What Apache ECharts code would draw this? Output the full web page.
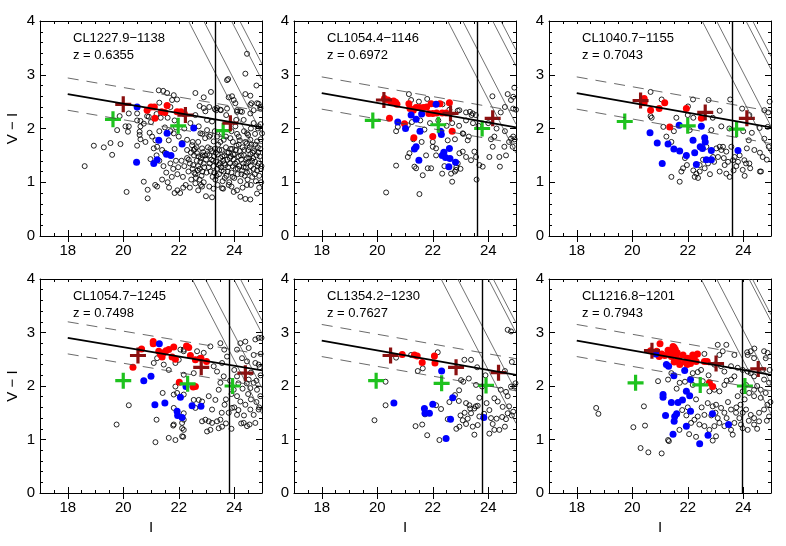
<!DOCTYPE html>
<html>
<head>
<meta charset="utf-8">
<title>Diagramas cor-magnitude</title>
<script src="https://cdn.jsdelivr.net/npm/echarts@6/dist/echarts.min.js"></script>
<style>
  html, body { margin: 0; padding: 0; background: #fff; }
  #grafico { width: 786px; height: 546px; }
</style>
</head>
<body>
<div id="grafico"></div>
<script>
// Painéis na ordem: esquerda para direita, de cima para baixo
const clusterNames = ['CL1227.9\u22121138', 'CL1054.4\u22121146', 'CL1040.7\u22121155',
                      'CL1054.7\u22121245', 'CL1354.2\u22121230', 'CL1216.8\u22121201'];
const redshifts = ['0.6355', '0.6972', '0.7043', '0.7498', '0.7627', '0.7943'];

// Sequência vermelha: valor de V-I em I=18 e em I=25, faixa de ±0.3
const redSeqAt18 = [2.64, 2.66, 2.66, 2.90, 2.85, 2.85];
const redSeqAt25 = [2.02, 2.02, 2.02, 2.29, 2.21, 2.21];
const redSeqHalfWidth = 0.3;
const redSeqStart = 18;
const redSeqEnd = 25;

// Limite em magnitude I (linha vertical)
const magLimits = [23.32, 23.62, 23.61, 23.81, 23.80, 23.97];
// Linhas de V constante: valor de V de cada linha
const vLimits = [
  [26.35, 26.90, 27.90, 28.20],
  [26.54, 27.08, 28.16, 28.46],
  [26.52, 27.04, 28.10, 28.34],
  [26.48, 26.96, 27.98, 28.22],
  [26.30, 26.90, 28.00, 28.18],
  [26.48, 27.04, 28.21, 28.33]
];

const xTickLabels = [18, 20, 22, 24];
const xMin = 17, xMax = 25;
const yMin = 0, yMax = 4;

// Cruzes (vermelho escuro e verde)
const darkCrosses = [
  [[20.00, 2.45], [22.24, 2.25], [23.86, 2.10]],
  [[20.24, 2.53], [22.64, 2.28], [24.16, 2.19]],
  [[20.30, 2.52], [22.63, 2.30], [24.13, 2.19]],
  [[20.53, 2.57], [22.81, 2.35], [24.40, 2.24]],
  [[20.48, 2.57], [22.84, 2.35], [24.37, 2.25]],
  [[20.71, 2.66], [23.02, 2.42], [24.54, 2.32]]
];
const greenCrosses = [
  [[19.63, 2.17], [21.98, 2.05], [23.60, 1.96]],
  [[19.84, 2.15], [22.20, 2.07], [23.78, 2.00]],
  [[19.73, 2.13], [22.00, 2.05], [23.76, 1.99]],
  [[20.00, 2.10], [22.32, 2.04], [23.94, 2.00]],
  [[19.96, 2.10], [22.32, 2.05], [23.92, 2.01]],
  [[20.12, 2.06], [22.45, 2.02], [24.06, 2.00]]
];

// ---- Painel 1 ----
const red1 = [[20.86,2.34],[21.0,2.40],[21.12,2.40],[21.14,2.19],[21.38,2.31],[21.50,2.30],[21.58,2.43],[21.94,2.31],[22.08,2.31],[22.2,2.28]];
const blue1 = [[20.5,2.40],[21.28,1.78],[21.58,1.91],[22.54,2.01],[21.56,1.52],[21.72,1.50],[22.12,1.71],[21.22,1.42],[21.1,1.35],[20.48,1.37]];
const field1 = [
  [18.61,1.30],[18.94,1.68],[19.3,1.65],[19.54,1.73],[19.6,1.51],[19.78,1.97],[19.87,2.23],[19.9,1.71],
  [20.2,2.28],[20.5,2.28],[20.86,2.23],[20.62,2.14],[20.5,2.15],[20.74,2.09],[20.08,2.04],[20.2,2.04],[20.17,1.94],[20.62,2.04],
  [20.59,1.94],[20.59,1.88],[20.62,1.80],[20.5,1.68],[20.98,1.43],[21.1,1.63],[20.74,1.01],[20.88,0.86],[20.12,0.82],[20.88,0.70],
  [20.92,2.22],[21.0,2.12],[20.95,1.92],[20.8,1.75],
  [21.28,2.71],[21.44,2.70],[21.58,2.66],[21.82,2.62],[21.76,2.53],[21.94,2.54],[21.3,2.48],[21.2,2.27],[21.35,2.2],[21.6,2.2],[21.85,2.15],[21.7,2.4],
  [21.04,1.85],[21.16,1.78],[21.22,1.66],[21.4,1.6],[21.64,1.78],[21.82,1.91],[22.0,1.85],[21.3,1.95],[21.5,2.02],[21.7,1.95],[21.9,2.02],
  [21.3,1.4],[21.45,1.3],[21.5,1.55],[21.85,1.62],[21.2,1.5],
  [21.15,0.95],[21.4,1.05],[21.6,1.0],[21.65,0.9],[21.75,1.1],[21.85,0.8],[21.95,0.85],[21.55,1.18],[21.8,1.25],[21.95,1.15],[21.7,1.35],
  [21.9,1.4],[21.98,1.28],[21.22,0.92],[22.16,0.9],
  [22.6,2.66],[22.9,2.58],[22.75,2.42],[22.96,2.32],[22.42,2.10],[22.72,2.04],[23.02,2.16],[22.78,1.91],[23.02,1.97],[22.3,1.79],
  [22.48,1.69],[22.12,1.73],[22.54,1.6],[22.66,1.54],[22.84,1.63],
  [22.1,1.4],[22.2,1.3],[22.3,1.45],[22.35,1.2],[22.4,1.35],[22.5,1.25],[22.55,1.5],[22.6,1.15],[22.65,1.4],[22.7,1.3],[22.75,1.05],
  [22.8,1.45],[22.85,1.2],[22.9,1.35],[22.95,1.5],[22.15,1.1],[22.25,0.95],[22.45,1.05],[22.6,0.98],[22.9,1.0],[22.3,1.6],[22.5,1.75],
  [22.7,1.75],[22.95,1.82],[22.2,2.0],[22.6,2.25],[22.85,1.9],[22.4,0.9],[22.7,0.85],[22.05,0.8],[22.98,0.74],[22.84,0.92],
  [22.52,1.32],[22.58,1.62],[22.62,1.08],[22.68,1.22],[22.72,1.48],[22.78,1.38],[22.82,1.12],[22.88,1.56],[22.92,1.28],[22.98,1.42],[23.0,1.18],
  [23.16,2.68],[23.35,2.34],[23.52,2.34],[23.74,2.9],[24.4,3.02],[24.46,3.39],[24.8,2.8],[24.4,2.64],[23.98,2.53],[24.1,2.34],[24.7,2.34],
  [24.88,2.46],[24.94,2.4],[23.78,2.92],[24.58,2.61],[24.62,2.47],[24.94,2.37],[23.8,2.58],[24.04,2.47],[22.9,2.38],[23.1,2.4],[23.3,2.36],
  [23.74,2.37],[24.1,2.31],[24.28,2.31],
  [23.92,2.6],[24.58,2.44],[24.82,2.47],[24.22,2.32],[24.58,2.28],[24.07,2.16],[24.34,2.16],[24.04,2.04],[24.7,2.1],[24.88,2.04],[25.0,1.91],
  [23.86,1.82],[24.16,1.85],[24.46,1.91],[24.58,1.79],[24.82,1.76],[23.38,1.85],[23.62,1.79],[23.2,2.13],[23.14,1.88],[23.26,1.76],
  [23.71,2.25],[23.5,2.35],[23.38,2.38],
  [23.05,1.65],[23.1,1.5],[23.12,1.35],[23.15,1.2],[23.18,1.42],[23.2,1.58],[23.22,1.1],[23.25,1.3],[23.28,1.48],[23.3,1.62],[23.32,1.05],
  [23.35,1.38],[23.38,1.25],[23.4,1.52],[23.42,1.7],[23.45,1.15],[23.48,1.35],[23.5,1.45],[23.52,1.28],[23.55,1.6],[23.58,1.02],[23.6,1.4],
  [23.62,1.2],[23.65,1.5],[23.68,1.32],[23.7,1.65],[23.72,1.12],[23.75,1.42],[23.78,1.28],[23.8,1.55],[23.82,1.0],[23.85,1.35],[23.88,1.48],
  [23.9,1.18],[23.92,1.62],[23.95,1.3],[23.98,1.42],[24.0,1.08],[24.02,1.52],[24.05,1.25],[24.08,1.68],[24.1,1.38],[24.12,1.15],[24.15,1.48],
  [24.18,1.3],[24.2,1.58],[24.22,1.02],[24.25,1.42],[24.28,1.22],[24.3,1.65],[24.32,1.35],[24.35,1.5],[24.38,1.12],[24.4,1.75],[24.42,1.28],
  [24.45,1.45],[24.48,1.05],[24.5,1.6],[24.52,1.38],[24.55,1.2],[24.58,1.52],[24.6,1.3],[24.62,1.7],[24.65,1.1],[24.68,1.45],[24.7,1.25],
  [24.72,1.58],[24.75,1.38],[24.78,1.02],[24.8,1.5],[24.82,1.22],[24.85,1.65],[24.88,1.35],[24.9,1.12],[24.92,1.48],[24.95,1.8],[24.97,1.0],
  [24.98,1.3],
  [23.1,1.85],[23.3,1.95],[23.5,1.75],[23.55,1.92],[23.7,1.85],[23.9,1.95],[24.1,1.9],[24.2,1.78],[24.35,1.95],[24.5,1.88],[24.6,2.0],
  [24.75,1.9],[24.85,2.0],[24.95,2.08],[23.95,1.75],[24.45,1.72],
  [23.1,0.92],[23.25,0.88],[23.4,0.95],[23.6,0.88],[23.9,0.92],[24.1,0.85],[24.3,0.9],[24.6,0.95],[24.9,0.9],[22.8,0.95],[23.2,0.72],
  [23.56,0.89],[23.98,0.82],[24.22,0.73],[24.4,0.69],[24.58,0.68],[24.82,0.79],[23.8,0.95],[24.46,0.95],
  [23.02,1.52],[23.08,1.28],[23.14,1.62],[23.24,1.4],[23.28,1.18],[23.34,1.55],[23.36,1.12],[23.44,1.32],[23.46,1.6],[23.54,1.22],
  [23.57,1.48],[23.64,1.35],[23.66,1.08],[23.74,1.55],[23.76,1.2],[23.84,1.45],[23.86,1.62],[23.94,1.1],[23.96,1.52],[24.03,1.35],
  [24.06,1.6],[24.13,1.25],[24.16,1.7],[24.24,1.5],[24.26,1.15],[24.34,1.28],[24.36,1.6],[24.44,1.35],[24.46,1.18],[24.54,1.45],
  [24.56,1.65],[24.64,1.4],[24.66,1.55],[24.74,1.15],[24.76,1.7],[24.84,1.3],[24.86,1.55],[24.94,1.62],[24.96,1.25],[22.44,1.55],
  [22.36,1.42],[22.56,1.18],[22.64,1.65],[22.76,1.25],[22.86,1.5]
];

// ---- Painel 2 ----
const red2 = [[20.26,2.56],[20.38,2.53],[20.5,2.50],[20.59,2.51],[20.66,2.49],[20.71,2.45],[20.44,2.19],[20.98,2.09],[21.14,2.46],
  [21.18,2.37],[21.3,2.34],[21.4,2.39],[21.52,2.39],[21.66,2.39],[21.78,2.40],[21.94,2.46],[21.86,2.28],[22.0,2.28],[22.14,2.29],
  [22.26,2.46],[22.34,2.29],[22.48,2.29],[22.6,2.48],[22.0,1.85],[21.32,1.83],[22.7,1.95]];
const blue2 = [[22.12,2.45],[21.22,2.25],[21.6,2.27],[20.74,2.12],[21.02,2.0],[21.4,2.17],[21.54,1.95],[22.28,1.95],[22.31,1.89],
  [21.4,1.66],[21.34,1.62],[21.5,1.41],[22.34,1.50],[22.4,1.56],[22.46,1.46],[22.6,1.63],[22.62,1.44],[22.58,1.29],[22.82,1.37]];
const field2 = [
  [21.14,2.64],[21.22,2.53],[21.5,2.5],[21.8,2.55],[22.1,2.45],[22.35,2.45],[22.6,2.35],[22.9,2.33],[23.2,2.3],[23.4,2.25],[23.55,2.25],
  [24.15,2.6],[24.7,2.64],[24.82,2.53],[24.9,2.59],[24.94,2.76],[25.0,2.35],[24.6,2.4],[24.45,2.3],[24.9,2.37],[23.44,2.28],[23.34,2.31],[22.96,2.34],
  [20.74,2.03],[20.68,1.95],[21.1,2.06],[21.25,2.12],[21.55,2.15],[21.7,1.98],[21.9,2.1],[22.2,2.15],[22.5,2.05],[22.7,2.1],[22.95,2.05],
  [23.2,2.15],[23.45,2.1],[23.65,2.05],[24.0,2.1],[24.3,2.0],[24.6,1.95],[24.9,1.85],[23.1,1.9],[22.8,1.8],[22.0,1.75],[21.3,1.8],[21.6,1.75],
  [23.3,1.85],[24.1,1.8],[24.75,1.75],[24.95,1.8],
  [21.16,1.54],[21.1,1.47],[21.34,1.29],[21.4,1.26],[20.68,1.31],[21.64,1.13],[21.82,1.26],[21.94,1.26],[21.76,1.5],[22.0,1.66],[22.12,1.63],
  [22.42,1.3],[22.34,1.16],[22.66,1.16],[22.7,1.01],[22.84,1.23],[22.9,1.35],[22.96,1.54],[23.08,1.57],[23.2,1.47],[23.38,1.41],[23.5,1.57],
  [23.56,1.47],[23.68,1.32],[23.8,1.29],[24.04,1.47],[24.16,1.66],[24.22,1.85],[24.4,1.47],[24.42,1.29],[24.58,1.66],[24.64,1.5],[24.88,1.66],
  [24.82,1.81],[23.58,1.05],[20.32,0.81],[21.52,0.78],[22.12,1.5],[22.54,1.78],[23.08,1.91],[23.26,1.78],[22.8,1.2],[22.85,1.28],[23.0,1.25]
];

// ---- Painel 3 ----
const red3 = [[20.43,2.56],[20.43,2.48],[20.66,2.34],[20.97,2.37],[21.17,2.48],[21.35,2.03],[21.95,2.37],[22.49,2.19]];
const blue3 = [[20.64,1.92],[20.9,1.73],[21.29,1.71],[21.5,1.62],[21.71,1.58],[21.69,2.06],[21.95,1.50],[22.19,1.78],[22.25,1.55],
  [22.45,1.66],[22.53,1.63],[22.49,2.04],[22.61,1.83],[22.63,1.75],[22.67,1.42],[22.85,1.42],[22.85,1.59],[21.08,1.35],[22.31,1.33],[23.81,1.59]];
const field3 = [
  [20.66,2.68],[20.66,2.23],[21.06,2.54],[21.12,2.03],[21.59,2.2],[22.01,2.41],[22.19,2.54],[22.75,2.53],[23.15,2.33],[23.21,2.04],[23.53,2.54],
  [23.96,2.37],[24.22,2.25],[24.76,2.34],[24.88,2.03],[24.59,2.01],[24.76,1.81],[24.92,1.66],[24.7,1.47],[24.64,1.2],[24.22,1.35],[24.1,1.35],
  [23.98,1.23],[23.87,1.5],[23.69,1.47],[23.63,1.41],[23.45,1.38],[23.33,1.32],[23.39,1.16],[23.51,1.1],[23.15,1.2],[23.09,1.47],[23.03,1.63],
  [22.91,1.47],[22.73,1.35],[22.61,1.26],[22.43,1.2],[22.31,1.16],[22.37,1.08],[22.25,1.1],[22.43,1.32],[21.83,1.26],[21.77,1.2],[21.41,1.1],
  [21.71,1.01],[21.23,1.85],[21.41,1.75],[22.07,1.97],[22.67,1.66],[23.15,1.66],[23.21,1.6],[23.27,1.66],[23.39,1.57],[23.57,1.66],[23.81,1.38],
  [24.04,1.41],[24.25,1.26],[24.6,1.2],[24.13,1.63],[24.2,1.78],[24.31,1.92],[22.85,1.97],[20.7,2.2],
  [24.9,2.3],[24.95,2.5],[24.85,1.42],[24.6,1.55],[23.75,1.3],[23.3,1.45],[22.95,1.38],[22.55,1.42],[22.8,1.15],[22.2,1.22],[21.9,1.45],
  [21.5,1.95],[22.2,2.2],[22.9,2.2],[23.5,2.0],[24.0,1.95],[24.4,1.6],[21.97,1.32],[23.65,1.22],[24.05,1.12],[22.0,2.25]
];

// ---- Painel 4 ----
const red4 = [[20.35,2.35],[20.66,2.69],[21.08,2.83],[21.08,2.79],[21.28,2.65],[21.34,2.59],[21.4,2.54],[21.46,2.62],[21.54,2.66],
  [21.64,2.68],[21.82,2.73],[21.76,2.54],[21.88,2.5],[22.28,2.75],[22.36,2.72],[22.42,2.57],[22.6,2.49],[22.8,2.52],[23.0,2.46],
  [22.02,2.07],[22.52,1.98],[22.6,1.99]];
const blue4 = [[21.3,2.79],[20.74,2.1],[21.0,2.18],[21.14,1.65],[21.5,1.68],[22.06,1.79],[21.94,1.53],[21.96,1.45],[22.12,1.41],
  [22.26,1.99],[22.48,1.63],[22.8,1.62]];
const field4 = [
  [22.06,2.68],[22.18,2.65],[22.0,2.49],[21.88,2.43],[21.1,2.43],[21.64,2.3],[22.66,2.65],[22.75,2.52],[22.9,2.62],[23.14,2.74],[23.5,2.8],
  [23.64,2.68],[23.74,2.55],[23.56,2.43],[23.38,2.27],[23.26,2.37],[22.54,2.24],[22.18,2.21],[21.88,1.99],[21.82,1.84],[21.94,1.87],[22.18,1.84],
  [22.54,1.74],[22.72,1.74],[22.84,1.71],[23.08,1.81],[23.32,1.74],[23.44,1.93],[23.5,2.06],[23.62,2.18],[24.1,2.68],[24.22,2.8],[24.4,2.83],
  [24.52,2.71],[24.76,2.87],[24.88,2.9],[24.7,2.58],[24.28,2.52],[24.46,2.46],[24.76,2.43],[24.88,2.4],[24.52,2.12],[24.7,2.06],[24.58,1.96],
  [24.82,1.93],[24.94,1.81],[24.1,2.18],[23.98,1.93],[24.1,1.81],[24.22,1.71],[24.4,1.65],[24.58,1.56],[24.7,1.46],[24.88,1.56],[24.76,1.31],
  [24.46,1.25],[24.34,1.31],[24.1,1.46],[23.92,1.59],[23.5,1.37],[23.38,1.34],[23.2,1.31],[23.08,1.34],[22.96,1.37],[22.84,1.34],[23.14,1.18],
  [23.02,1.15],[23.44,1.21],[23.56,1.24],[22.6,1.59],[22.18,1.49],[22.18,1.37],[22.12,1.31],[22.18,1.18],[22.12,1.06],[21.82,1.28],[21.88,0.99],
  [21.64,1.03],[21.2,1.37],[21.16,0.95],[23.2,1.56],
  [20.2,1.64],[19.76,1.28],[21.42,1.87],[21.46,2.4],[21.22,2.52],[22.18,2.68],[21.82,1.59],[21.8,1.26],[22.12,1.21],[22.16,1.05],
  [23.7,1.75],[23.8,1.5],[23.9,1.85],[24.0,1.6],[24.0,2.3],[24.15,2.05],[24.3,1.95],[24.5,1.85],[24.6,2.25],[24.8,2.1],[24.95,2.2],
  [24.9,1.6],[24.6,1.75],[24.35,1.45],[24.25,1.3],[24.55,1.28],[24.8,1.7],[23.85,2.1],[23.65,1.65],[23.55,1.5],[23.7,1.3],[23.9,1.2],
  [24.15,1.55],[24.45,2.05],[24.95,2.6],[24.98,2.9],[24.92,2.35]
];

// ---- Painel 5 ----
const red5 = [[20.9,2.59],[21.34,2.58],[21.44,2.56],[21.62,2.44],[22.06,2.56],[22.08,2.43]];
const blue5 = [[20.6,1.68],[21.7,1.58],[21.72,1.49],[21.88,1.49],[22.0,1.66],[22.32,2.28],[22.72,1.78],[22.64,1.38],[22.48,1.02],[23.84,1.41]];
const field5 = [
  [20.68,2.53],[19.9,1.36],[20.3,2.08],[20.3,1.64],[21.46,2.28],[21.22,2.58],[22.18,2.63],[21.38,1.25],[21.62,1.28],[21.8,1.08],[22.24,0.99],
  [22.12,1.64],[22.8,1.83],[23.02,2.11],[23.1,2.08],[23.3,2.14],[23.14,2.49],[23.38,2.49],[22.94,1.72],[23.2,1.68],[23.32,1.64],[23.5,1.58],
  [23.38,1.49],[23.26,1.39],[23.08,1.36],[22.96,1.24],[23.2,1.29],[23.44,1.24],[23.5,1.09],[23.62,1.27],[23.68,1.43],[23.94,1.68],[24.04,1.55],
  [24.22,1.77],[24.3,1.39],[24.16,1.29],[24.22,1.18],[24.4,1.18],[24.52,1.61],[24.64,1.38],[24.7,1.49],[24.64,1.89],[24.7,1.81],[24.82,1.99],
  [24.94,1.99],[24.7,3.05],[24.82,3.02],[23.78,1.99],[23.56,2.02],[23.68,1.78],[21.64,2.33],[22.54,1.38],[24.04,1.11],[24.34,1.71],
  [21.72,1.47],[22.3,1.57],[22.6,1.7],[22.95,1.92],[23.35,1.58],[23.55,1.62],[23.62,1.63],[23.15,1.5],[22.85,1.2],[23.0,1.45],[23.85,1.48],
  [24.1,1.4],[24.5,1.42],[24.85,1.45],[24.6,1.24],[24.9,1.52],[24.45,1.93],[24.75,1.62],[24.98,2.05],[23.9,2.2],[23.6,2.35],[24.6,2.28],[24.85,2.45]
];

// ---- Painel 6 ----
const red6 = [[20.66,2.66],[20.88,2.65],[21.0,2.79],[20.97,2.55],[21.06,2.6],[21.17,2.57],[21.29,2.67],[21.35,2.62],[21.41,2.55],
  [21.47,2.74],[21.55,2.68],[21.59,2.58],[21.51,2.72],[21.62,2.62],[21.67,2.49],[21.51,2.45],[21.71,2.4],[21.83,2.58],[21.98,2.4],
  [22.0,2.52],[22.18,2.58],[22.24,2.55],[22.3,2.46],[22.35,2.6],[22.2,2.5],[22.6,2.46],[22.7,2.46],[22.78,2.06],[22.9,1.99],
  [21.45,2.6],[21.9,2.45],[22.1,2.42]];
const blue6 = [[20.85,2.6],[21.5,2.19],[21.89,2.29],[22.1,2.12],[21.95,1.9],[22.07,1.82],[21.11,1.84],[21.11,1.79],[21.41,1.69],
  [21.65,1.69],[21.81,1.74],[21.2,1.45],[21.53,1.43],[21.6,1.48],[21.51,1.34],[21.95,1.25],[21.47,1.1],[22.1,1.53],[22.89,1.48],
  [23.47,1.28],[22.73,1.08],[22.43,0.92],[21.23,2.4],[21.31,2.37]];
const field6 = [
  [18.7,1.59],[18.78,1.48],[20.04,1.23],[20.42,1.62],[20.46,1.26],[20.3,0.84],[20.58,0.76],[21.06,0.74],[21.32,0.97],
  [22.6,2.6],[23.08,2.77],[23.14,2.58],[23.26,2.65],[23.68,2.58],[24.16,2.58],[24.27,2.65],[24.39,2.52],[24.75,2.65],[24.81,2.52],[23.56,2.37],
  [23.8,2.34],[23.98,2.3],[24.16,2.27],[24.27,2.24],[24.39,2.18],[24.75,2.12],[24.93,2.06],[22.96,2.4],[23.2,2.37],[23.32,2.27],[23.68,2.18],
  [23.56,2.12],[23.32,2.02],[23.14,1.9],[22.96,1.93],[22.78,1.9],[22.36,2.26],[22.48,2.3],[22.54,2.09],[22.18,2.02],[22.18,2.24],[21.41,2.24],
  [21.29,2.12],[21.71,2.06],[20.93,2.09],[22.72,1.68],[22.9,1.62],[23.02,1.65],[23.2,1.59],[23.32,1.5],[23.56,1.56],[23.74,1.5],[23.86,1.4],
  [23.98,1.5],[24.1,1.56],[24.27,1.46],[24.39,1.4],[24.57,1.5],[24.75,1.56],[24.87,1.65],[24.93,1.43],[24.63,1.78],[24.39,1.81],[24.21,1.87],
  [24.39,1.93],[24.63,1.93],[24.81,1.87],[23.8,1.81],[23.98,1.9],[24.1,2.02],[22.36,1.43],[22.6,1.46],[23.08,1.4],[22.24,1.37],[22.12,1.31],
  [22.42,1.28],[22.6,1.25],[22.78,1.18],[22.96,1.25],[23.14,1.31],[23.32,1.25],[23.68,1.31],[23.92,1.28],[23.98,1.21],[24.39,1.28],[24.57,1.34],
  [24.16,1.18],[23.56,1.18],[23.02,1.06],[23.62,1.09],[21.29,0.99],
  [23.39,2.77],[24.14,2.63],[24.4,2.7],[24.88,2.62],[24.95,2.3],[24.98,1.7],[24.85,1.35],[24.5,1.2],[24.2,1.35],[23.75,1.6],[23.45,1.7],
  [23.0,1.5],[22.85,1.45],[22.5,1.6],[22.3,1.75],[22.0,1.6],[21.8,1.55],[22.05,1.1],[22.3,1.05],[22.9,0.98],[23.4,1.4],[23.9,1.65],
  [24.05,1.75],[24.5,2.0],[24.7,2.3],[23.4,2.1],[22.75,2.2],[21.9,2.08],[21.6,1.95],[21.95,1.45],[21.7,1.18]
];

const fieldPts = [field1, field2, field3, field4, field5, field6];
const redPts = [red1, red2, red3, red4, red5, red6];
const bluePts = [blue1, blue2, blue3, blue4, blue5, blue6];

// Layout dos painéis (pixels)
const gridLefts = [40, 294, 549];
const gridTops = [21, 279];
const gridHeights = [215, 214];
const gridWidth = 222;

const fonte = 'Liberation Sans, Arial, sans-serif';
const simboloMais = 'path://M-1.5,-7.5H1.5V-1.5H7.5V1.5H1.5V7.5H-1.5V1.5H-7.5V-1.5H-1.5Z';

const grafico = echarts.init(document.getElementById('grafico'), null, { renderer: 'canvas' });

const grid = [], xAxis = [], yAxis = [], series = [], graphic = [];

for (let i = 0; i < 6; i++) {
  const col = i % 3, row = Math.floor(i / 3);
  const left = gridLefts[col], top = gridTops[row];
  grid.push({ left: left, top: top, width: gridWidth, height: gridHeights[row], containLabel: false });

  const linhaEixo = { show: true, onZero: false, lineStyle: { color: '#000', width: 1 } };
  const semLinha = { show: false };
  const baseX = { type: 'value', gridIndex: i, min: xMin, max: xMax, splitLine: { show: false } };

  // eixo x inferior: ticks curtos a cada 0.5 e rótulos 18..24
  xAxis.push(Object.assign({}, baseX, {
    position: 'bottom', interval: 0.5,
    axisLine: linhaEixo,
    axisTick: { show: true, inside: true, length: 3, lineStyle: { color: '#000' } },
    axisLabel: { show: true, customValues: xTickLabels, margin: 7, color: '#000', fontSize: 15, fontFamily: fonte },
    name: row === 1 ? 'I' : '', nameLocation: 'middle', nameGap: 27,
    nameTextStyle: { color: '#000', fontSize: 15, fontFamily: fonte }
  }));
  // ticks maiores nos valores rotulados
  xAxis.push(Object.assign({}, baseX, {
    position: 'bottom', axisLine: semLinha,
    axisTick: { show: true, inside: true, length: 6, customValues: xTickLabels, lineStyle: { color: '#000' } },
    axisLabel: { show: false }
  }));
  // espelhos no topo
  xAxis.push(Object.assign({}, baseX, {
    position: 'top', interval: 0.5, axisLine: linhaEixo,
    axisTick: { show: true, inside: true, length: 3, lineStyle: { color: '#000' } },
    axisLabel: { show: false }
  }));
  xAxis.push(Object.assign({}, baseX, {
    position: 'top', axisLine: semLinha,
    axisTick: { show: true, inside: true, length: 6, customValues: xTickLabels, lineStyle: { color: '#000' } },
    axisLabel: { show: false }
  }));

  const baseY = {
    type: 'value', gridIndex: i, min: yMin, max: yMax, interval: 1,
    splitLine: { show: false }, minorSplitLine: { show: false },
    axisLine: linhaEixo,
    axisTick: { show: true, inside: true, length: 6, lineStyle: { color: '#000' } },
    minorTick: { show: true, splitNumber: 5, length: 3, lineStyle: { color: '#000' } }
  };
  yAxis.push(Object.assign({}, baseY, {
    position: 'left',
    axisLabel: { show: true, margin: 5, color: '#000', fontSize: 15, fontFamily: fonte },
    name: col === 0 ? 'V \u2212 I' : '', nameLocation: 'middle', nameGap: 20, nameRotate: 90,
    nameTextStyle: { color: '#000', fontSize: 15, fontFamily: fonte }
  }));
  yAxis.push(Object.assign({}, baseY, { position: 'right', axisLabel: { show: false } }));

  const xi = 4 * i, yi = 2 * i;

  // linhas de V constante
  vLimits[i].forEach(v => {
    series.push({
      type: 'line', xAxisIndex: xi, yAxisIndex: yi, silent: true, symbol: 'none', clip: true,
      lineStyle: { color: '#333', width: 0.7 },
      data: [[v - yMax, yMax], [xMax, v - xMax]]
    });
  });

  // sequência vermelha e faixa tracejada
  const a = redSeqAt18[i], b = redSeqAt25[i];
  series.push({
    type: 'line', xAxisIndex: xi, yAxisIndex: yi, silent: true, symbol: 'none',
    lineStyle: { color: '#000', width: 1.8 },
    data: [[redSeqStart, a], [redSeqEnd, b]],
    markLine: {
      silent: true, symbol: 'none', label: { show: false },
      lineStyle: { color: '#000', width: 1.4, type: 'solid' },
      data: [{ xAxis: magLimits[i] }]
    }
  });
  [redSeqHalfWidth, -redSeqHalfWidth].forEach(d => {
    series.push({
      type: 'line', xAxisIndex: xi, yAxisIndex: yi, silent: true, symbol: 'none',
      lineStyle: { color: '#444', width: 0.8, type: [11, 8] },
      data: [[redSeqStart, a + d], [redSeqEnd, b + d]]
    });
  });

  // galáxias de campo (círculos abertos)
  series.push({
    type: 'scatter', xAxisIndex: xi, yAxisIndex: yi, silent: true,
    symbol: 'circle', symbolSize: 5,
    itemStyle: { color: 'rgba(0,0,0,0)', borderColor: '#000', borderWidth: 0.85, opacity: 1 },
    data: fieldPts[i]
  });
  series.push({
    type: 'scatter', xAxisIndex: xi, yAxisIndex: yi, silent: true,
    symbol: 'circle', symbolSize: 7, itemStyle: { color: '#ff0000', opacity: 1 },
    data: redPts[i]
  });
  series.push({
    type: 'scatter', xAxisIndex: xi, yAxisIndex: yi, silent: true,
    symbol: 'circle', symbolSize: 7, itemStyle: { color: '#0000ff', opacity: 1 },
    data: bluePts[i]
  });
  series.push({
    type: 'scatter', xAxisIndex: xi, yAxisIndex: yi, silent: true,
    symbol: simboloMais, symbolSize: 16, itemStyle: { color: '#1ec21e', opacity: 1 },
    data: greenCrosses[i]
  });
  series.push({
    type: 'scatter', xAxisIndex: xi, yAxisIndex: yi, silent: true,
    symbol: simboloMais, symbolSize: 16, itemStyle: { color: '#8b1010', opacity: 1 },
    data: darkCrosses[i]
  });

  // nome do aglomerado e redshift
  graphic.push({
    type: 'text', left: left + 33, top: top + 11,
    style: { text: clusterNames[i], fill: '#000', font: '13px ' + fonte }
  });
  graphic.push({
    type: 'text', left: left + 33, top: top + 28,
    style: { text: 'z = ' + redshifts[i], fill: '#000', font: '13px ' + fonte }
  });
}

grafico.setOption({
  animation: false,
  backgroundColor: '#fff',
  grid: grid,
  xAxis: xAxis,
  yAxis: yAxis,
  series: series,
  graphic: graphic
});
</script>
</body>
</html>
